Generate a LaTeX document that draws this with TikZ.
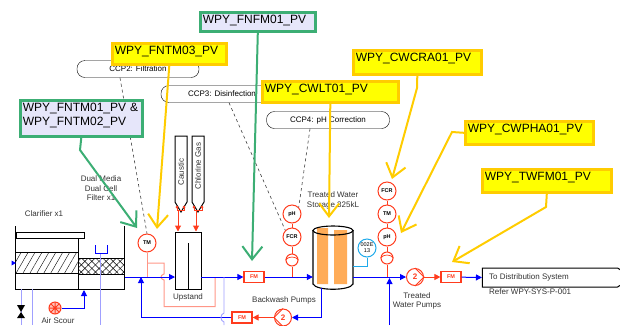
\documentclass[tikz,border=0pt]{standalone}
\usepackage{fontspec}
\setmainfont{Liberation Sans}
\usetikzlibrary{arrows.meta, patterns.meta, shapes.geometric, shapes.symbols}
\definecolor{tagyellow}{RGB}{255, 255, 0}
\definecolor{taggold}{RGB}{255, 204, 0}
\definecolor{taggreen}{RGB}{60, 174, 116}
\definecolor{taglav}{RGB}{230, 230, 250}
\definecolor{plantred}{RGB}{255, 60, 30}
\definecolor{tankorange}{RGB}{255, 172, 88}
\definecolor{paleblue}{RGB}{160, 160, 255}
\definecolor{palered}{RGB}{255, 150, 135}
\definecolor{instblue}{RGB}{30, 170, 235}

\begin{document}
\begin{tikzpicture}[
  x=1pt, y=-1pt,
  tagbox/.style={draw, line width=2.6pt, inner sep=2.5pt, anchor=north west, align=left, text height=9pt, font=\fontsize{12}{14}\selectfont},
  ytag/.style={tagbox, draw=taggold, fill=tagyellow},
  gtag/.style={tagbox, draw=taggreen, fill=taglav},
  yline/.style={draw=taggold, line width=2pt, -{Straight Barb[length=13pt, width=20pt, line width=2pt]}},
  gline/.style={draw=taggreen, line width=2pt, -{Straight Barb[length=13pt, width=20pt, line width=2pt]}},
  ccp/.style={draw, rounded corners=8pt, minimum height=17pt, inner sep=0pt, font=\fontsize{8}{9}\selectfont},
  txt/.style={inner sep=0pt, align=center, font=\fontsize{8}{9.5}\selectfont, text=black!80},
  inst/.style={draw=plantred, fill=white, circle, line width=1pt, minimum size=18pt, inner sep=0pt, font=\fontsize{5.5}{6}\selectfont\bfseries},
  fmbox/.style={draw=plantred, fill=white, line width=1.2pt, minimum width=20pt, minimum height=11pt, inner sep=0pt, text=plantred, font=\fontsize{5.5}{6}\selectfont\bfseries},
  pumpsm/.style={draw=plantred, fill=white, circle, line width=1pt, minimum size=12pt, inner sep=0pt},
  pumpbg/.style={draw=plantred, fill=white, circle, line width=1pt, minimum size=17pt, inner sep=0pt, text=plantred, font=\fontsize{8}{9}\selectfont\bfseries},
  tote/.style={draw, line width=1pt, fill=white, inner sep=0pt},
  chem/.style={draw, line width=1pt, fill=white, signal, signal to=south, signal pointer angle=62, minimum width=12pt, minimum height=66pt, inner sep=0pt},
  bl/.style={draw=blue, line width=1pt},
  bla/.style={bl, -{Triangle[length=6pt, width=6pt]}},
  rda/.style={draw=plantred, line width=1pt, -{Triangle[length=6pt, width=6pt]}},
  dsh/.style={draw=black!75, dashed, line width=0.6pt},
]
  \useasboundingbox (0,0) rectangle (620,325);

  \node[ccp, minimum width=122pt] (ccptwo) at (138,69) {CCP2: Filtration};
  \node[ccp, minimum width=122pt] (ccpthree) at (222,94) {CCP3: Disinfection};
  \node[ccp, minimum width=123pt] (ccpfour) at (328,120) {CCP4: pH Correction};

  \node[inst] (tmf) at (147,243) {TM};
  \node[inst] (phb) at (292,214) {pH};
  \node[inst] (fcrb) at (292,237) {FCR};
  \node[pumpsm] (pumpb) at (292,260) {};
  \node[inst] (fcrc) at (387,191) {FCR};
  \node[inst] (tmc) at (387,214) {TM};
  \node[inst] (phc) at (387,237) {pH};
  \node[pumpsm] (pumpc) at (387,258) {};

  \draw[dsh] (ccptwo.south) ++(-18,0) -- (tmf.north);
  \draw[dsh] (ccpthree.south) ++(7,0) -- (fcrb.north west);
  \draw[dsh] (ccpfour.south) ++(-18,0) -- (phb.north east);

  % clarifier and filter
  \fill[pattern={Lines[angle=60, distance=6pt, line width=0.4pt]}] (16,252) rectangle (78,273);
  \fill[pattern={Lines[angle=45, distance=5pt, line width=0.5pt]}] (78,258) rectangle (124,274);
  \fill[pattern={Lines[angle=-45, distance=5pt, line width=0.5pt]}] (78,258) rectangle (124,274);
  \draw[line width=1pt] (15.5,226) -- (15.5,289) -- (124.5,289) -- (124.5,226);
  \draw[line width=1pt] (78,238) -- (78,289);
  \draw[line width=1pt] (16,252) -- (78,252) (16,273) -- (78,273);
  \draw[line width=1pt] (78,258) -- (124,258) (78,274) -- (124,274);
  \draw[line width=1pt] (16,232) rectangle (84,238);
  \draw[draw=paleblue, line width=0.9pt] (21,289) -- (21,325) (32,289) -- (32,325) (100.5,253) -- (100.5,325);
  \draw[bl] (95.5,245) -- (95.5,253) -- (107,253) -- (107,245);
  \fill[blue] (16,263) -- (11.5,260.5) -- (11.5,265.5) -- cycle;
  \fill[black] (17,305) -- (25,305) -- (21,312) -- (25,318) -- (17,318) -- (21,312) -- cycle;

  \node[draw=plantred, fill=plantred!30, circle, line width=1pt, minimum size=12pt, inner sep=0pt,
    path picture={\draw[plantred, line width=1pt] (path picture bounding box.north) -- (path picture bounding box.south)
      (path picture bounding box.east) -- (path picture bounding box.west)
      (path picture bounding box.north east) -- (path picture bounding box.south west)
      (path picture bounding box.north west) -- (path picture bounding box.south east);}] (blower) at (55,308) {};
  \coordinate (airin) at (84,290);
  \draw[bla] (blower) -- (84,308) -- (airin);

  % upstand
  \node[tote, minimum width=26pt, minimum height=57pt] (upstand) at (188,260.5) {};
  \draw[line width=1pt] (188,243) -- (upstand.south);

  \node[chem] (caustic) at (181,169) {};
  \node[chem] (chlorine) at (198,169) {};
  \node[txt, rotate=90] (caustictxt) at (181,172) {Caustic};
  \node[txt, rotate=90] (chlorinetxt) at (198,166) {Chlorine Gas};

  \coordinate (fca) at (178,210);
  \coordinate (fcb) at (196,210);
  \draw[rda] (fca) -- (fca |- upstand.north);
  \draw[rda] (fcb) -- (fcb |- upstand.north);
  \draw[plantred, line width=1pt] (177,207) -- (177,210) -- (184,210) -- (184,207);
  \draw[plantred, line width=1pt] (194,207) -- (194,210) -- (202,210) -- (202,207);
  \fill[plantred] (177,207) circle (1.5pt) (184,207) circle (1.5pt) (194,207) circle (1.5pt) (202,207) circle (1.5pt);

  % pipework
  \coordinate (ja) at (147,277);
  \coordinate (jb) at (141,277);
  \coordinate (jc) at (224,277);
  \coordinate (jd) at (292,277);
  \coordinate (je) at (387,277);
  \coordinate (upin) at (175,277);
  \coordinate (upout) at (201,277);
  \coordinate (filout) at (124.5,277);
  \coordinate (tkout) at (353,277);
  \coordinate (lvl) at (353,266);

  \draw[palered, line width=1pt] (ja) -- (tmf.south);
  \draw[palered, line width=1pt] (147,263) -- (164,263) -- (164,274) .. controls (160,275) and (160,279) .. (164,280) -- (164,306.5) -- (215,306.5) -- (215,277);

  \draw[bla] (filout) -- (upin);
  \node[fmbox] (fma) at (254,277) {FM};
  \node[fmbox] (fmb) at (242,317.5) {FM};
  \node[fmbox] (fmc) at (451,277) {FM};
  \draw[bla] (upout) -- (fma);

  \node[draw=none, minimum width=40pt, minimum height=56pt, inner sep=0pt] (tank) at (333,257.5) {};
  \fill[white] (313,230) rectangle (353,285);
  \fill[tankorange] (317,228) rectangle (328,284) (334,230) rectangle (347,284);
  \draw[line width=1.1pt] (313,230) -- (313,284) .. controls (316,291) and (350,291) .. (353,284) -- (353,230);
  \draw[line width=1.1pt] (333,230.5) ellipse [x radius=20, y radius=4.5];

  \draw[bla] (fma) -- (tank.west |- fma);
  \node[pumpbg] (pumpw) at (283,317.5) {2};
  \draw[plantred, line width=0.8pt] (pumpw.north) -- (pumpw.west) -- (pumpw.south);
  \coordinate (tkbot) at (321,288);
  \draw[bla] (tkbot) -- (321,317.5) -- (pumpw.east);
  \draw[rda] (pumpw) -- (fmb);
  \draw[bl] (fmb) -- (141,317.5);
  \draw[bla] (141,317.5) -- (jb);
  \draw[draw=paleblue, line width=0.9pt] (224,277) -- (224,313) .. controls (220,314) and (220,321) .. (224,322) -- (224,325);

  \draw[draw=plantred, line width=1pt] (jd) -- (pumpb);
  \draw[draw=plantred, line width=1pt] (pumpb) -- (fcrb);
  \draw[draw=plantred, line width=1pt] (fcrb) -- (phb);
  \draw[draw=plantred, line width=0.7pt] (pumpb.west) .. controls +(3,-4) and +(-3,-4) .. (pumpb.east);

  \node[pumpbg] (pumpt) at (415,277) {2};
  \draw[plantred, line width=0.8pt] (pumpt.north) -- (pumpt.east) -- (pumpt.south);
  \draw[bla] (tkout) -- (pumpt.west);
  \draw[rda] (pumpt) -- (fmc);
  \draw[draw=plantred, line width=1pt] (je) -- (pumpc);
  \draw[draw=plantred, line width=1pt] (pumpc) -- (phc);
  \draw[draw=plantred, line width=1pt] (phc) -- (tmc);
  \draw[draw=plantred, line width=1pt] (tmc) -- (fcrc);
  \draw[draw=plantred, line width=0.7pt] (pumpc.west) .. controls +(3,-4) and +(-3,-4) .. (pumpc.east);
  \coordinate (jeup) at (389.5,325);
  \draw[bla] (jeup) -- (389.5,278);

  \node[draw=instblue, fill=white, circle, line width=1pt, minimum size=18pt, inner sep=0pt, align=center, font=\fontsize{5.5}{6}\selectfont] (lvlt) at (367,248) {002E\\13};
  \draw[instblue, line width=0.8pt] (lvl) -- (367,266) -- (lvlt.south);

  \node[draw, line width=1pt, fill=white, signal, signal to=east, signal pointer angle=65, minimum width=150pt, minimum height=19pt, inner sep=0pt] (dist) at (550,277.5) {};
  \node[txt, anchor=west] (disttxt) at (489,277) {To Distribution System};
  \draw[bla] (fmc) -- (dist.west);

  \node[txt] (clartxt) at (44,214) {Clarifier x1};
  \node[txt] (filtxt) at (101,188.5) {Dual Media\\Dual Cell\\Filter x1};
  \node[txt] (airtxt) at (58,321) {Air Scour};
  \node[txt] (uptxt) at (188,297) {Upstand};
  \node[txt] (bwtxt) at (284,300) {Backwash Pumps};
  \node[txt] (stotxt) at (333,200.5) {Treated Water\\Storage 325kL};
  \node[txt] (twtxt) at (417,301) {Treated\\Water Pumps};
  \node[txt, anchor=west] (reftxt) at (489,292) {Refer WPY-SYS-P-001};

  % tags
  \node[gtag, text width=110pt, text depth=5pt] (fnfm) at (199,11) {WPY\_FNFM01\_PV};
  \node[ytag, text width=109pt, text depth=7pt] (fntm) at (111,42) {WPY\_FNTM03\_PV};
  \node[gtag, text width=117pt, text depth=22pt] (fntt) at (19,99) {WPY\_FNTM01\_PV \&\\WPY\_FNTM02\_PV};
  \node[ytag, text width=131pt, text depth=7pt] (cwlt) at (261,80) {WPY\_CWLT01\_PV};
  \node[ytag, text width=123pt, text depth=10pt] (cwcr) at (352,49) {WPY\_CWCRA01\_PV};
  \node[ytag, text width=123pt, text depth=9pt] (cwph) at (464,120) {WPY\_CWPHA01\_PV};
  \node[ytag, text width=124pt, text depth=9pt] (twfm) at (481,168) {WPY\_TWFM01\_PV};

  \coordinate (tipfnfm) at (252,261);
  \coordinate (tipfntm) at (157,229);
  \coordinate (tipfntt) at (137,228);
  \coordinate (tipcwlt) at (329,218);
  \coordinate (tipcwcr) at (392,179);
  \coordinate (tipcwph) at (401,233);
  \coordinate (tiptwfm) at (452,262);

  \draw[gline] (fnfm.south) -- (tipfnfm);
  \draw[yline] (fntm.south) -- (tipfntm);
  \draw[gline] (fntt.south) -- (80,150) -- (tipfntt);
  \draw[yline] (cwlt.south) -- (tipcwlt);
  \draw[yline] (cwcr.south) -- (417,88) -- (tipcwcr);
  \draw[yline] (cwph.west) -- (452,132) -- (tipcwph);
  \draw[yline] (twfm.south) -- (546,207) -- (tiptwfm);
\end{tikzpicture}
\end{document}
